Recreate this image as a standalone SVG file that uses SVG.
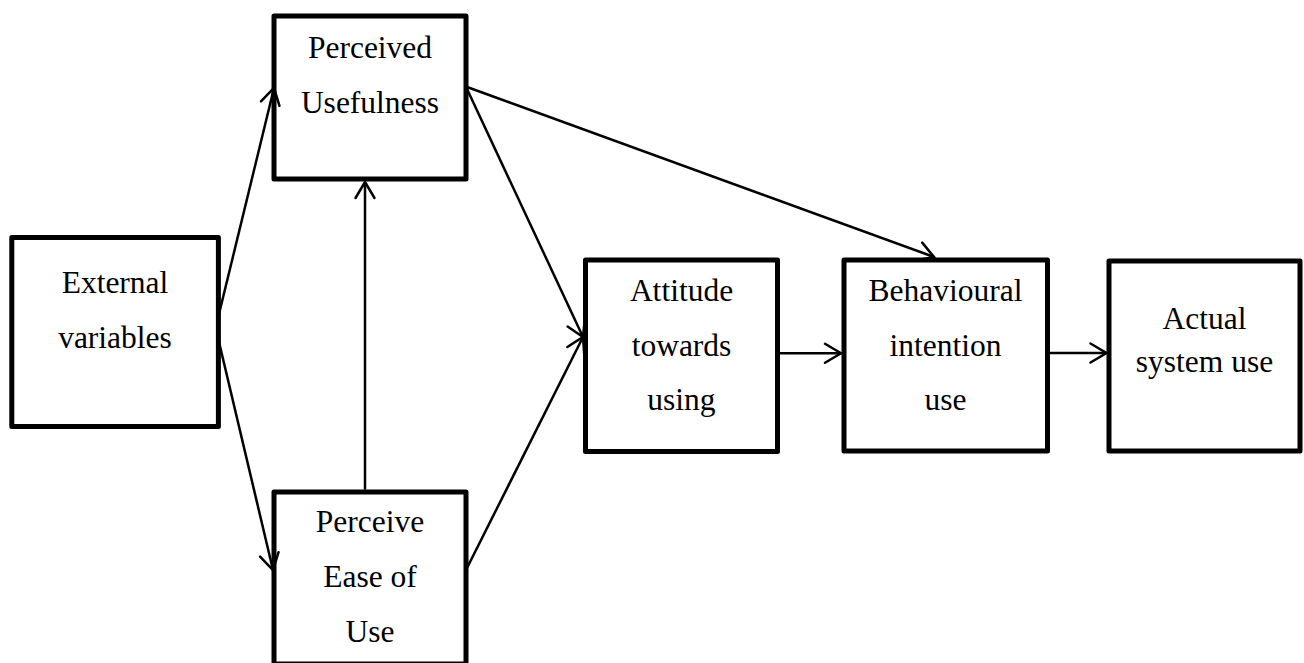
<svg xmlns="http://www.w3.org/2000/svg" width="1304" height="663" viewBox="0 0 1304 663">
<style>
.box{fill:none;stroke:#000;stroke-width:5;stroke-linejoin:round}
.lbl{font-family:"Liberation Serif","Times New Roman",serif;font-size:31.5px;fill:#000;text-anchor:middle}
.conn{stroke:#000;stroke-width:2.5;fill:none;marker-end:url(#arr)}
</style>
<defs>
<marker id="arr" markerUnits="userSpaceOnUse" markerWidth="40" markerHeight="40" viewBox="-20 -20 40 40" refX="0" refY="0" orient="auto">
<path d="M-16,-9.5 L0,0 L-16,9.5" fill="none" stroke="#000" stroke-width="2.5" stroke-linecap="round" stroke-linejoin="miter"/>
</marker>
</defs>
<rect width="1304" height="663" fill="#fff"/>
<g id="external">
<rect class="box" x="11.8" y="237.5" width="206.6" height="189"/>
<text class="lbl" x="115" y="292.7">External</text>
<text class="lbl" x="115" y="348.3">variables</text>
</g>
<g id="pu">
<rect class="box" x="274" y="16" width="192" height="163"/>
<text class="lbl" x="370" y="58.3">Perceived</text>
<text class="lbl" x="370" y="113.3">Usefulness</text>
</g>
<g id="peou">
<rect class="box" x="274" y="492" width="192" height="172"/>
<text class="lbl" x="370" y="532">Perceive</text>
<text class="lbl" x="370" y="587">Ease of</text>
<text class="lbl" x="370" y="642">Use</text>
</g>
<g id="attitude">
<rect class="box" x="585.5" y="260" width="192" height="191.5"/>
<text class="lbl" x="681.5" y="301">Attitude</text>
<text class="lbl" x="681.5" y="356">towards</text>
<text class="lbl" x="681.5" y="410">using</text>
</g>
<g id="behavioural">
<rect class="box" x="844" y="260" width="203.5" height="191"/>
<text class="lbl" x="945.5" y="301">Behavioural</text>
<text class="lbl" x="945.5" y="356">intention</text>
<text class="lbl" x="945.5" y="410">use</text>
</g>
<g id="actual">
<rect class="box" x="1109" y="261" width="191" height="190"/>
<text class="lbl" x="1204.5" y="329.3">Actual</text>
<text class="lbl" x="1204.5" y="371.7">system use</text>
</g>
<g id="connectors">
<line class="conn" x1="219" y1="314" x2="274" y2="88"/>
<line class="conn" x1="219" y1="342" x2="273" y2="570"/>
<line class="conn" x1="365" y1="489.5" x2="365" y2="182"/>
<line class="conn" x1="467" y1="89" x2="583" y2="337"/>
<line class="conn" x1="467" y1="568" x2="583" y2="337"/>
<line class="conn" x1="467" y1="87" x2="934" y2="257"/>
<line class="conn" x1="780" y1="353.3" x2="841" y2="353.3"/>
<line class="conn" x1="1050" y1="353" x2="1106.5" y2="353"/>
</g>
</svg>
